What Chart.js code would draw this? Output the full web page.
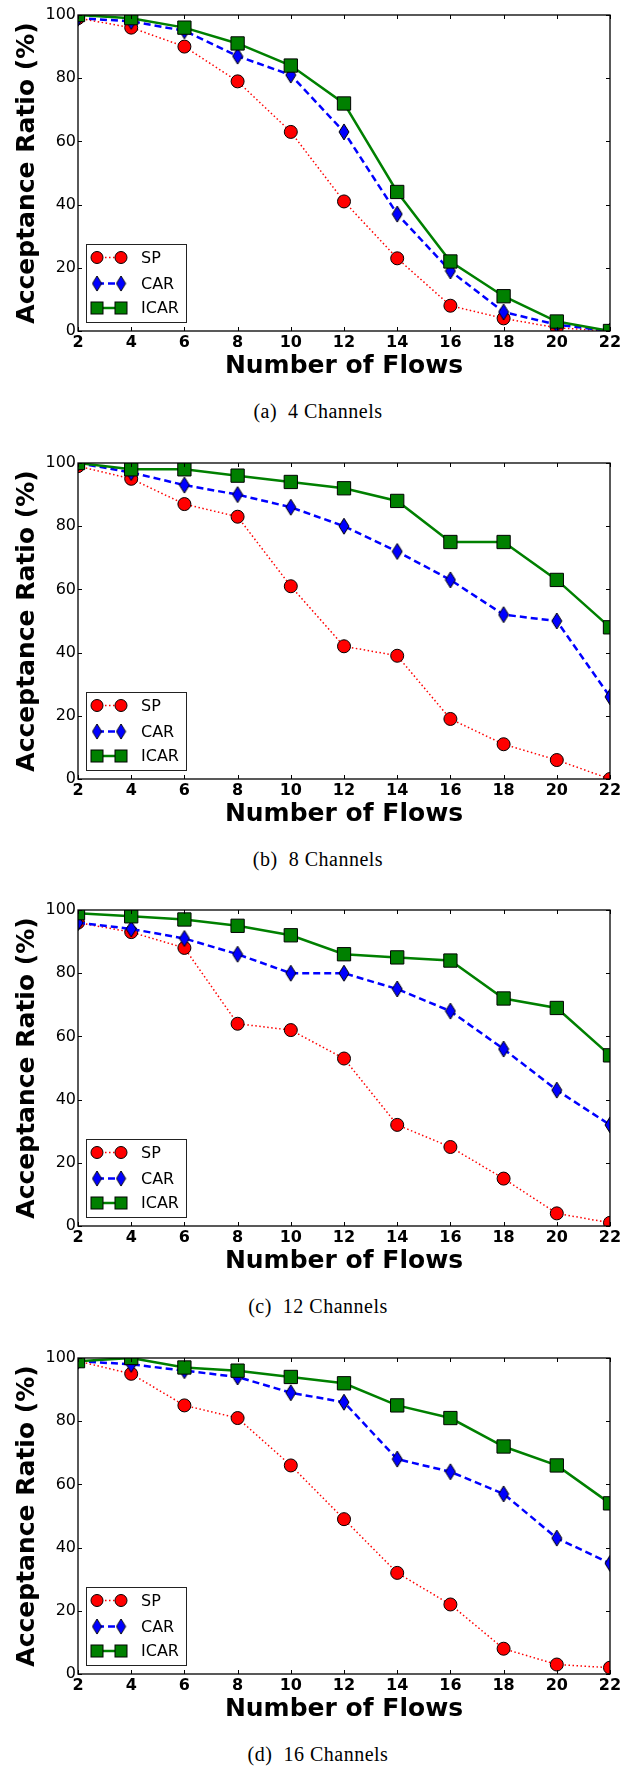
<!DOCTYPE html>
<html lang="en">
<head>
<meta charset="UTF-8">
<title>Acceptance Ratio vs Number of Flows</title>
<script src="https://cdn.jsdelivr.net/npm/chart.js"></script>
<style>
    body {
        margin: 0;
        background: #fff;
        width: 641px;
        height: 1769px;
        position: relative;
    }
    .panel {
        position: absolute;
        left: 0;
        width: 641px;
        height: 447px;
    }
    .panel canvas {
        position: absolute;
        left: 0;
        top: 0;
    }
    .caption {
        position: absolute;
        left: 0;
        width: 636px;
        top: 401px;
        text-align: center;
        font-family: "Liberation Serif", serif;
        font-size: 20px;
        line-height: 20px;
        letter-spacing: 0.5px;
        color: #000;
    }
</style>
</head>
<body>
<div class="panel" style="top:0px">
    <canvas id="chartA" width="641" height="390"></canvas>
    <div class="caption">(a)&nbsp; 4 Channels</div>
</div>
<div class="panel" style="top:448px">
    <canvas id="chartB" width="641" height="390"></canvas>
    <div class="caption">(b)&nbsp; 8 Channels</div>
</div>
<div class="panel" style="top:895px">
    <canvas id="chartC" width="641" height="390"></canvas>
    <div class="caption">(c)&nbsp; 12 Channels</div>
</div>
<div class="panel" style="top:1343px">
    <canvas id="chartD" width="641" height="390"></canvas>
    <div class="caption">(d)&nbsp; 16 Channels</div>
</div>

<script>
// x values (number of flows)
const flows = [2, 4, 6, 8, 10, 12, 14, 16, 18, 20, 22];
const seriesNames = ['SP', 'CAR', 'ICAR'];

// (a) 4 channels
const spA   = [99, 96, 90, 79, 63, 41, 23, 8, 4, 1, 0];
const carA  = [99, 98, 95, 87, 81, 63, 37, 19, 6, 2, 0];
const icarA = [100, 99, 96, 91, 84, 72, 44, 22, 11, 3, 0];

// (b) 8 channels
const spB   = [99, 95, 87, 83, 61, 42, 39, 19, 11, 6, 0];
const carB  = [100, 97, 93, 90, 86, 80, 72, 63, 52, 50, 26];
const icarB = [100, 98, 98, 96, 94, 92, 88, 75, 75, 63, 48];

// (c) 12 channels
const spC   = [96, 93, 88, 64, 62, 53, 32, 25, 15, 4, 1];
const carC  = [96, 94, 91, 86, 80, 80, 75, 68, 56, 43, 32];
const icarC = [99, 98, 97, 95, 92, 86, 85, 84, 72, 69, 54];

// (d) 16 channels
const spD   = [99, 95, 85, 81, 66, 49, 32, 22, 8, 3, 2];
const carD  = [99, 98, 96, 94, 89, 86, 68, 64, 57, 43, 35];
const icarD = [99, 100, 97, 96, 94, 92, 85, 81, 72, 66, 54];

Chart.defaults.color = '#000';

// thin diamond marker (matplotlib 'd')
function makeDiamond(w, h) {
    const c = document.createElement('canvas');
    c.width = w + 2;
    c.height = h + 2;
    const g = c.getContext('2d');
    g.beginPath();
    g.moveTo(c.width / 2, 1);
    g.lineTo(c.width - 1, c.height / 2);
    g.lineTo(c.width / 2, c.height - 1);
    g.lineTo(1, c.height / 2);
    g.closePath();
    g.fillStyle = '#0000ff';
    g.fill();
    g.strokeStyle = '#000';
    g.lineWidth = 1;
    g.stroke();
    return c;
}
const diamondImg = makeDiamond(10, 16);

function toPoints(vals) {
    return flows.map((f, i) => ({x: f, y: vals[i]}));
}

function drawMarker(ctx, name, x, y) {
    ctx.save();
    ctx.strokeStyle = '#000';
    ctx.lineWidth = 1;
    ctx.setLineDash([]);
    if (name === 'SP') {
        ctx.beginPath();
        ctx.arc(x, y, 6, 0, Math.PI * 2);
        ctx.fillStyle = '#ff0000';
        ctx.fill();
        ctx.stroke();
    } else if (name === 'CAR') {
        ctx.drawImage(diamondImg, x - 5.5, y - 8.5, 11, 17);
    } else {
        ctx.fillStyle = '#008000';
        ctx.fillRect(x - 6, y - 6, 12, 12);
        ctx.strokeRect(x - 6, y - 6, 12, 12);
    }
    ctx.restore();
}

// inward ticks on all four sides, frame and legend box
const framePlugin = {
    id: 'frame',
    afterDatasetsDraw(chart) {
        const ctx = chart.ctx;
        const a = chart.chartArea;
        const xs = chart.scales.x;
        const ys = chart.scales.y;
        ctx.save();
        ctx.strokeStyle = '#000';
        ctx.lineWidth = 1;
        ctx.beginPath();
        xs.ticks.forEach(t => {
            const px = Math.round(xs.getPixelForValue(t.value)) + 0.5;
            ctx.moveTo(px, a.bottom); ctx.lineTo(px, a.bottom - 4);
            ctx.moveTo(px, a.top); ctx.lineTo(px, a.top + 4);
        });
        ys.ticks.forEach(t => {
            const py = Math.round(ys.getPixelForValue(t.value)) + 0.5;
            ctx.moveTo(a.left, py); ctx.lineTo(a.left + 4, py);
            ctx.moveTo(a.right, py); ctx.lineTo(a.right - 4, py);
        });
        ctx.stroke();
        ctx.lineWidth = 1.3;
        ctx.strokeRect(a.left, a.top, a.right - a.left, a.bottom - a.top);

        // legend
        const bx = a.left + 8, bw = 100, bh = 78;
        const by = a.bottom - 9 - bh;
        ctx.fillStyle = '#fff';
        ctx.fillRect(bx, by, bw, bh);
        ctx.lineWidth = 1;
        ctx.strokeStyle = '#222';
        ctx.strokeRect(bx + 0.5, by + 0.5, bw, bh);
        const rows = [13.5, 39.5, 64];
        chart.data.datasets.forEach((ds, i) => {
            const ry = by + rows[i];
            ctx.save();
            ctx.strokeStyle = ds.borderColor;
            ctx.lineWidth = ds.borderWidth;
            ctx.setLineDash(ds.borderDash || []);
            ctx.beginPath();
            ctx.moveTo(bx + 11, ry);
            ctx.lineTo(bx + 35, ry);
            ctx.stroke();
            ctx.restore();
            drawMarker(ctx, ds.label, bx + 11, ry);
            drawMarker(ctx, ds.label, bx + 35, ry);
            ctx.fillStyle = '#000';
            ctx.font = '16px "DejaVu Sans"';
            ctx.textBaseline = 'middle';
            ctx.textAlign = 'left';
            ctx.fillText(ds.label, bx + 55, ry + 1);
        });
        ctx.restore();
    }
};

function makeChart(id, sp, car, icar) {
    const ctx = document.getElementById(id).getContext('2d');
    return new Chart(ctx, {
        type: 'line',
        data: {
            datasets: [{
                label: seriesNames[0],
                data: toPoints(sp),
                borderColor: '#ff0000',
                borderWidth: 1.5,
                borderDash: [1.5, 2.5],
                pointStyle: 'circle',
                pointRadius: 6.5,
                pointBackgroundColor: '#ff0000',
                pointBorderColor: '#000',
                pointBorderWidth: 1,
                clip: 0,
                order: 3
            }, {
                label: seriesNames[1],
                data: toPoints(car),
                borderColor: '#0000ff',
                borderWidth: 2.5,
                borderDash: [7, 4],
                pointStyle: diamondImg,
                pointRadius: 8,
                pointBorderWidth: 1,
                clip: 0,
                order: 2
            }, {
                label: seriesNames[2],
                data: toPoints(icar),
                borderColor: '#008000',
                borderWidth: 2.5,
                pointStyle: 'rect',
                pointRadius: 9.4,
                pointBackgroundColor: '#008000',
                pointBorderColor: '#000',
                pointBorderWidth: 1,
                clip: 0,
                order: 1
            }]
        },
        options: {
            responsive: false,
            animation: false,
            layout: {padding: {left: 0, right: 31, top: 15, bottom: 0}},
            plugins: {
                legend: {display: false},
                tooltip: {enabled: false}
            },
            scales: {
                x: {
                    type: 'linear',
                    min: 2,
                    max: 22,
                    ticks: {
                        stepSize: 2,
                        padding: 2,
                        maxRotation: 0,
                        autoSkip: false,
                        color: '#000',
                        font: {family: 'DejaVu Sans', size: 16, weight: 'bold'}
                    },
                    grid: {display: false, drawTicks: false},
                    border: {display: false},
                    title: {
                        display: true,
                        text: 'Number of Flows',
                        color: '#000',
                        font: {family: 'DejaVu Sans', size: 25, weight: 'bold'},
                        padding: {top: 0, bottom: 9}
                    },
                    afterFit(scale) { scale.height = 59; }
                },
                y: {
                    min: 0,
                    max: 100,
                    ticks: {
                        stepSize: 20,
                        padding: 2,
                        color: '#000',
                        font: {family: 'DejaVu Sans', size: 16}
                    },
                    grid: {display: false, drawTicks: false},
                    border: {display: false},
                    title: {
                        display: true,
                        text: 'Acceptance Ratio (%)',
                        color: '#000',
                        font: {family: 'DejaVu Sans', size: 25, weight: 'bold'},
                        padding: {top: 12, bottom: 0}
                    },
                    afterFit(scale) { scale.width = 78; }
                }
            }
        },
        plugins: [framePlugin]
    });
}

makeChart('chartA', spA, carA, icarA);
makeChart('chartB', spB, carB, icarB);
makeChart('chartC', spC, carC, icarC);
makeChart('chartD', spD, carD, icarD);
</script>
</body>
</html>
